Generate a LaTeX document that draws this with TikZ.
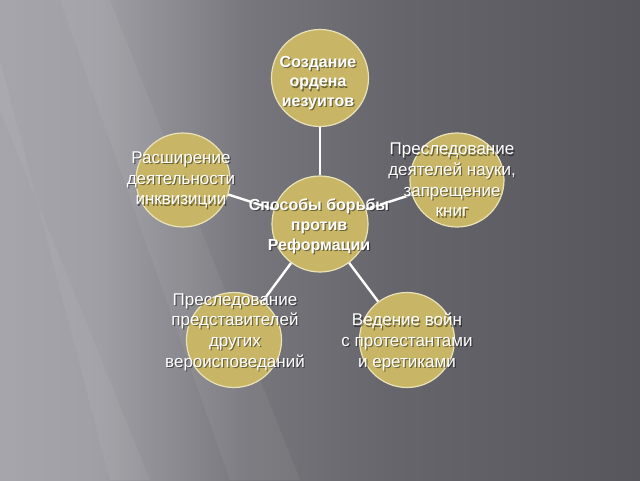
\documentclass[tikz,border=0pt]{standalone}
\usepackage{fontspec}
\setmainfont{Liberation Sans}
\definecolor{bgA}{HTML}{A6A5AB}
\definecolor{bgB}{HTML}{A09FA5}
\definecolor{bgC}{HTML}{77767C}
\definecolor{bgD}{HTML}{66656B}
\definecolor{bgE}{HTML}{57565C}
\definecolor{disc}{RGB}{200,181,102}
\definecolor{discedge}{HTML}{EAE2B8}
\pgfdeclarehorizontalshading{bgshade}{100bp}{color(0bp)=(bgA); color(25bp)=(bgA); color(32.8bp)=(bgB); color(44.5bp)=(bgC); color(56bp)=(bgD); color(75bp)=(bgE); color(100bp)=(bgE)}
\tikzset{
  disk/.style={circle, minimum size=#1, inner sep=0pt, fill=disc, draw=discedge, line width=1.2pt},
  link/.style={draw=white, line width=2.4pt},
  streak/.style={fill=white, fill opacity=0.05, draw=none},
  boldtxt/.style={align=center, text=white, font=\fontsize{16}{19.8}\selectfont\bfseries, inner sep=0pt},
  regtxt/.style={align=center, text=white, font=\fontsize{17}{20.7}\selectfont, inner sep=0pt},
  shadowtxt/.style={text=black, text opacity=0.45}
}
\newcommand{\lbl}[4]{%
  \node[#3, shadowtxt] (#1s) at ([shift={(1.2,1.2)}]#2) {#4};
  \node[#3] (#1) at (#2) {#4};}
\begin{document}
\begin{tikzpicture}[x=1pt, y=-1pt]
\useasboundingbox (0,0) rectangle (640,480);
\shade[shading=bgshade] (0,0) rectangle (640,480);
% faint diagonal streaks
\fill[streak] (60,0) -- (110,0) -- (300,480) -- (230,480) -- cycle;
\fill[streak] (0,60) -- (0,110) -- (150,480) -- (110,480) -- cycle;
% discs
\node[disk=97pt] (top) at (320,78) {};
\node[disk=96pt] (mid) at (320,224) {};
\node[disk=94pt] (lft) at (183,180) {};
\node[disk=94pt] (rgt) at (457,180) {};
\node[disk=95pt] (bl) at (234,340) {};
\node[disk=95pt] (br) at (407,340) {};
% connectors
\draw[link] (mid) -- (top);
\draw[link] (mid) -- (lft);
\draw[link] (mid) -- (rgt);
\draw[link] (mid) -- (bl);
\draw[link] (mid) -- (br);
% labels
\lbl{ttop}{318,83}{boldtxt}{Создание\\ордена\\иезуитов}
\lbl{tmid}{319,226}{boldtxt}{Способы борьбы\\против\\Реформации}
\lbl{tlft}{181,180}{regtxt}{Расширение\\деятельности\\инквизиции}
\lbl{trgt}{452,180}{regtxt}{Преследование\\деятелей науки,\\запрещение\\книг}
\lbl{tbl}{235,332}{regtxt}{Преследование\\представителей\\других\\вероисповеданий}
\lbl{tbr}{407,342}{regtxt}{Ведение войн\\с протестантами\\и еретиками}
\end{tikzpicture}
\end{document}
